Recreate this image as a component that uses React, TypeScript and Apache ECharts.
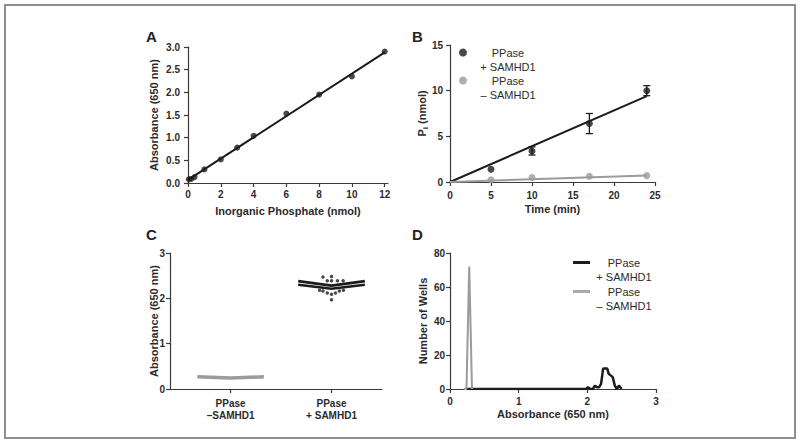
import React, { useEffect, useRef } from "react";
import * as echarts from "echarts";

// ---------- Panel A: phosphate standard curve ----------
const stdPhosphate = [0.05, 0.2, 0.4, 1, 2, 3, 4, 6, 8, 10, 12];
const stdAbsorbance = [0.08, 0.09, 0.13, 0.3, 0.52, 0.78, 1.04, 1.53, 1.95, 2.35, 2.9];
const stdFitX = [0, 12];
const stdFitY = [0.07, 2.88];
const aXTicks = [0, 2, 4, 6, 8, 10, 12];

// ---------- Panel B: Pi release time course ----------
const timeMin = [5, 10, 17, 24];
const piPlus = [1.4, 3.4, 6.4, 10.0];
const piPlusErr = [0, 0.45, 1.1, 0.55];
const piMinus = [0.25, 0.5, 0.62, 0.7];
const fitTime = [0, 24];
const fitPlus = [0, 9.4];
const fitMinus = [0, 0.7];

// ---------- Panel C: per-well absorbance (scatter dot plot) ----------
const groupPositions = [1, 2];
const groupLabels = ["PPase\n–SAMHD1", "PPase\n+ SAMHD1"];
const minusBandX = [0.67, 1.0, 1.33];
const minusBandY = [0.27, 0.24, 0.27];
const plusBandX = [1.67, 2.0, 2.33];
const plusUpperY = [2.38, 2.28, 2.38];
const plusLowerY = [2.3, 2.21, 2.3];
const plusOutX = [1.915, 2.0, 1.958, 2.0, 2.059, 2.115, 1.882, 1.915, 1.958, 2.0, 2.039, 2.078, 2.118, 2.0];
const plusOutY = [2.47, 2.48, 2.39, 2.39, 2.39, 2.39, 2.18, 2.16, 2.12, 2.09, 2.12, 2.16, 2.18, 1.97];

// ---------- Panel D: histogram of wells ----------
const histMinusX = [0.2, 0.24, 0.28, 0.32];
const histMinusN = [0, 0, 72, 0];
const histPlusX = [0.22, 1.98, 2.01, 2.04, 2.08, 2.11, 2.14, 2.17, 2.2, 2.23, 2.25, 2.29, 2.31, 2.34, 2.37, 2.4, 2.43, 2.46, 2.48, 2.5];
const histPlusN = [0, 0, 1, 0, 0, 2, 1, 1, 3, 12, 12, 12, 9, 8, 7, 2, 0, 2, 1, 0];

const FONT = "'Liberation Sans', Arial, Helvetica, sans-serif";
const AX = "#3a3a3a";
const TXT = "#2b2b2b";
const BLACK = "#1c1c1c";
const GRAY = "#9b9b9b";

const zip = (xs: number[], ys: number[]) => xs.map((x, i) => [x, ys[i]]);

function axis(o: any) {
  const base: any = {
    type: "value",
    nameLocation: "middle",
    nameMoveOverlap: false,
    splitLine: { show: false },
    axisLine: { show: true, onZero: false, lineStyle: { color: AX, width: 1.2 } },
    axisTick: { show: true, length: 4, lineStyle: { color: AX, width: 1.2 } },
    axisLabel: { color: TXT, fontFamily: FONT, fontWeight: "bold", fontSize: 10 },
    nameTextStyle: { color: TXT, fontFamily: FONT, fontWeight: "bold", fontSize: 11 },
  };
  return {
    ...base,
    ...o,
    axisLine: { ...base.axisLine, ...(o.axisLine || {}) },
    axisTick: { ...base.axisTick, ...(o.axisTick || {}) },
    axisLabel: { ...base.axisLabel, ...(o.axisLabel || {}) },
    nameTextStyle: { ...base.nameTextStyle, ...(o.nameTextStyle || {}) },
  };
}

const legendNames: Record<string, string> = {
  bPlus: "{t|PPase}\n{t|+ SAMHD1}",
  bMinus: "{t|PPase}\n{t|– SAMHD1}",
  dPlus: "{t|PPase}\n{t|+ SAMHD1}",
  dMinus: "{t|PPase}\n{t|– SAMHD1}",
};

function legendItem(name: string, left: number, top: number, icon: string, w: number, h: number, textW: number) {
  return {
    orient: "vertical",
    left,
    top,
    padding: 0,
    itemWidth: w,
    itemHeight: h,
    icon,
    selectedMode: false,
    data: [name],
    formatter: (n: string) => legendNames[n],
    textStyle: {
      padding: [14, 0, 0, 0],
      rich: { t: { width: textW, align: "center", fontSize: 11, lineHeight: 14, color: TXT, fontFamily: FONT } },
    },
  };
}

export default function App() {
  const ref = useRef<HTMLDivElement>(null);
  useEffect(() => {
    if (!ref.current) return;
    const chart = echarts.init(ref.current, null, { renderer: "svg" });
    const titleStyle = { fontFamily: FONT, fontWeight: "bold", fontSize: 15, color: "#222" };
    const option: any = {
      animation: false,
      backgroundColor: "#fff",
      graphic: [
        {
          type: "rect",
          silent: true,
          shape: { x: 5, y: 5, width: 790, height: 433 },
          style: { fill: "none", stroke: "#8f8f8f", lineWidth: 2 },
        },
      ],
      title: [
        { text: "A", left: 141, top: 24, textStyle: titleStyle },
        { text: "B", left: 407, top: 24, textStyle: titleStyle },
        { text: "C", left: 141, top: 222, textStyle: titleStyle },
        { text: "D", left: 407, top: 222, textStyle: titleStyle },
      ],
      grid: [
        { left: 188, top: 47, width: 200, height: 136 },
        { left: 450, top: 45, width: 205, height: 137 },
        { left: 170, top: 253, width: 212, height: 136 },
        { left: 450, top: 253, width: 206, height: 136 },
      ],
      legend: [
        legendItem("bPlus", 459, 47, "circle", 8, 8, 72),
        legendItem("bMinus", 459, 75, "circle", 8, 8, 72),
        legendItem("dPlus", 573, 257, "rect", 17, 3, 58),
        legendItem("dMinus", 573, 286, "rect", 17, 3, 58),
      ],
      xAxis: [
        axis({
          gridIndex: 0, min: 0, max: 12.2, name: "Inorganic Phosphate (nmol)", nameGap: 22,
          axisTick: { customValues: aXTicks }, axisLabel: { customValues: aXTicks, margin: 6 },
        }),
        axis({ gridIndex: 1, min: 0, max: 25, interval: 5, name: "Time (min)", nameGap: 21, axisLabel: { margin: 8 } }),
        axis({
          gridIndex: 2, min: 0.4, max: 2.5,
          axisTick: { customValues: groupPositions },
          axisLabel: {
            customValues: groupPositions, margin: 8, lineHeight: 12,
            formatter: (v: number) => groupLabels[groupPositions.indexOf(v)] || "",
          },
        }),
        axis({ gridIndex: 3, min: 0, max: 3, interval: 1, name: "Absorbance (650 nm)", nameGap: 19, axisLabel: { margin: 7 } }),
      ],
      yAxis: [
        axis({
          gridIndex: 0, min: 0, max: 3, interval: 0.5, name: "Absorbance (650 nm)", nameGap: 29,
          axisLabel: { margin: 8, formatter: (v: number) => v.toFixed(1) },
        }),
        axis({
          gridIndex: 1, min: 0, max: 15, interval: 5, nameGap: 21,
          name: "{p|P}{s|i}{p| (nmol)}",
          nameTextStyle: {
            rich: {
              p: { fontSize: 11, fontWeight: "bold", fontFamily: FONT, color: TXT, lineHeight: 14 },
              s: { fontSize: 8, fontWeight: "bold", fontFamily: FONT, color: TXT, lineHeight: 14, verticalAlign: "bottom" },
            },
          },
          axisLabel: { margin: 7 },
        }),
        axis({ gridIndex: 2, min: 0, max: 3, interval: 1, name: "Absorbance (650 nm)", nameGap: 11, axisLabel: { margin: 5 } }),
        axis({ gridIndex: 3, min: 0, max: 80, interval: 20, name: "Number of Wells", nameGap: 22, axisLabel: { margin: 5 } }),
      ],
      series: [
        // A
        {
          type: "line", xAxisIndex: 0, yAxisIndex: 0, data: zip(stdFitX, stdFitY),
          showSymbol: false, lineStyle: { color: BLACK, width: 2 }, z: 3,
        },
        {
          type: "scatter", xAxisIndex: 0, yAxisIndex: 0, data: zip(stdPhosphate, stdAbsorbance),
          symbolSize: 6, itemStyle: { color: BLACK }, z: 4,
        },
        // B
        {
          type: "custom", xAxisIndex: 1, yAxisIndex: 1,
          data: timeMin.map((t, i) => [t, piPlus[i] - piPlusErr[i], piPlus[i] + piPlusErr[i]]),
          encode: { x: 0, y: [1, 2] },
          renderItem: (_p: any, api: any) => {
            const x = api.value(0);
            const lo = api.coord([x, api.value(1)]);
            const hi = api.coord([x, api.value(2)]);
            if (Math.abs(hi[1] - lo[1]) < 1) return null;
            const w = 3.5;
            const st = { stroke: BLACK, lineWidth: 1.3 };
            return {
              type: "group",
              children: [
                { type: "line", shape: { x1: lo[0], y1: lo[1], x2: hi[0], y2: hi[1] }, style: st },
                { type: "line", shape: { x1: hi[0] - w, y1: hi[1], x2: hi[0] + w, y2: hi[1] }, style: st },
                { type: "line", shape: { x1: lo[0] - w, y1: lo[1], x2: lo[0] + w, y2: lo[1] }, style: st },
              ],
            };
          },
          z: 2,
        },
        {
          type: "line", xAxisIndex: 1, yAxisIndex: 1, data: zip(fitTime, fitPlus),
          showSymbol: false, lineStyle: { color: BLACK, width: 2 }, z: 3,
        },
        {
          type: "line", xAxisIndex: 1, yAxisIndex: 1, data: zip(fitTime, fitMinus),
          showSymbol: false, lineStyle: { color: GRAY, width: 2 }, z: 3,
        },
        {
          name: "bPlus", type: "scatter", xAxisIndex: 1, yAxisIndex: 1, data: zip(timeMin, piPlus),
          symbolSize: 7, itemStyle: { color: BLACK }, z: 4,
        },
        {
          name: "bMinus", type: "scatter", xAxisIndex: 1, yAxisIndex: 1, data: zip(timeMin, piMinus),
          symbolSize: 7, itemStyle: { color: GRAY }, z: 4,
        },
        // C
        {
          type: "line", xAxisIndex: 2, yAxisIndex: 2, data: zip(minusBandX, minusBandY),
          showSymbol: false, lineStyle: { color: GRAY, width: 3.5 },
        },
        {
          type: "line", xAxisIndex: 2, yAxisIndex: 2, data: zip(plusBandX, plusUpperY),
          showSymbol: false, lineStyle: { color: BLACK, width: 2.6 },
        },
        {
          type: "line", xAxisIndex: 2, yAxisIndex: 2, data: zip(plusBandX, plusLowerY),
          showSymbol: false, lineStyle: { color: BLACK, width: 2.6 },
        },
        {
          type: "scatter", xAxisIndex: 2, yAxisIndex: 2, data: zip(plusOutX, plusOutY),
          symbolSize: 3.5, itemStyle: { color: BLACK },
        },
        // D
        {
          name: "dPlus", type: "line", xAxisIndex: 3, yAxisIndex: 3, data: zip(histPlusX, histPlusN),
          showSymbol: false, lineStyle: { color: BLACK, width: 2.5 }, itemStyle: { color: BLACK }, z: 2,
        },
        {
          name: "dMinus", type: "line", xAxisIndex: 3, yAxisIndex: 3, data: zip(histMinusX, histMinusN),
          showSymbol: false, lineStyle: { color: GRAY, width: 2 }, itemStyle: { color: "#aaaaaa" }, z: 3,
        },
      ],
    };
    chart.setOption(option);
    return () => chart.dispose();
  }, []);
  return (
    <div
      ref={ref}
      style={{ position: "absolute", left: 0, top: 0, width: 800, height: 444, background: "#fff" }}
    />
  );
}
